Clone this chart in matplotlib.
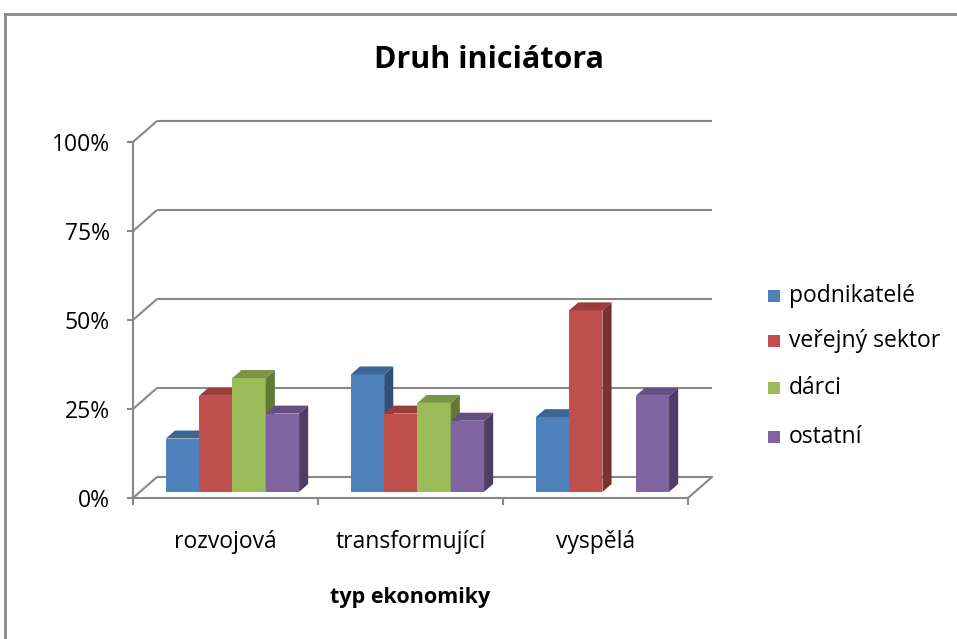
import matplotlib
matplotlib.use("Agg")
import matplotlib.pyplot as plt
from matplotlib.patches import Polygon, Rectangle
from matplotlib.lines import Line2D

categories = ["rozvojová", "transformující", "vyspělá"]
series = ["podnikatelé", "veřejný sektor", "dárci", "ostatní"]
podnikatele = [15, 33, 21]
verejny_sektor = [27, 22, 51]
darci = [32, 25, 0]
ostatni = [22, 20, 27]
values = [podnikatele, verejny_sektor, darci, ostatni]
yticks = [0, 25, 50, 75, 100]
ytick_labels = ["0%", "25%", "50%", "75%", "100%"]

front_colors = ["#4F81BD", "#C0504D", "#9BBB59", "#8064A2"]
top_colors = ["#3C6594", "#9A3D3B", "#7A9545", "#644E82"]
side_colors = ["#2F5079", "#7E302E", "#637A36", "#4F3D66"]
grid_color = "#888888"

FONT = ["Open Sans", "DejaVu Sans"]
plt.rcParams["font.family"] = FONT

W, H = 957, 639
fig = plt.figure(figsize=(W / 100, H / 100), dpi=100)

px_per_cat = 185.0
px_per_pct = 3.56
x_left_px, x_right_px = 133, 720
y0_px, ytop_px = 498, 115
ax = fig.add_axes([x_left_px / W, (H - y0_px) / H,
                   (x_right_px - x_left_px) / W, (y0_px - ytop_px) / H])
ax.set_xlim(-0.5, -0.5 + (x_right_px - x_left_px) / px_per_cat)
ax.set_ylim(0, (y0_px - ytop_px) / px_per_pct)
ax.patch.set_visible(False)

DX = 24 / px_per_cat   # depth offset of back wall (category units)
DY = 21 / px_per_pct   # depth offset of back wall (percent units)
lw = 1.5

# walls / gridlines
for v in yticks:
    ax.plot([-0.5, -0.5 + DX], [v, v + DY], color=grid_color, lw=lw, zorder=1,
            solid_capstyle="butt")
    ax.plot([-0.5 + DX, 2.5 + DX], [v + DY, v + DY], color=grid_color, lw=lw,
            zorder=1, solid_capstyle="butt")
# floor right edge
ax.plot([2.5, 2.5 + DX], [0, DY], color=grid_color, lw=lw, zorder=1)

# bars
n = len(series)
bw = 0.18
f0 = 0.29
dd = 0.38
for i in range(len(categories)):
    for j in range(n):
        v = values[j][i]
        if v <= 0:
            continue
        x0 = i - bw * n / 2 + j * bw + f0 * DX
        yb = f0 * DY
        ax.bar(x0, v, width=bw, bottom=yb, align="edge", color=front_colors[j],
               edgecolor="none", zorder=3)
        ox, oy = dd * DX, dd * DY
        top = Polygon([(x0, yb + v), (x0 + bw, yb + v), (x0 + bw + ox, yb + v + oy),
                       (x0 + ox, yb + v + oy)], closed=True, facecolor=top_colors[j],
                      edgecolor="none", zorder=3)
        side = Polygon([(x0 + bw, yb), (x0 + bw, yb + v), (x0 + bw + ox, yb + v + oy),
                        (x0 + bw + ox, yb + oy)], closed=True, facecolor=side_colors[j],
                       edgecolor="none", zorder=3)
        ax.add_patch(side)
        ax.add_patch(top)

# axes spines and ticks
for s in ["top", "right"]:
    ax.spines[s].set_visible(False)
for s in ["left", "bottom"]:
    ax.spines[s].set_color(grid_color)
    ax.spines[s].set_linewidth(lw)
    ax.spines[s].set_zorder(4)
ax.spines["left"].set_bounds(0, 100)
ax.spines["bottom"].set_bounds(-0.5, 2.5)

ax.set_yticks(yticks)
ax.set_yticklabels(ytick_labels)
ax.tick_params(axis="y", length=4.5, width=lw, color=grid_color, pad=12,
               labelsize=16.5, labelcolor="#000000")
ax.set_xticks([-0.5, 0.5, 1.5, 2.5])
ax.set_xticklabels([])
ax.set_xticks(range(len(categories)), minor=True)
ax.set_xticklabels(categories, minor=True)
ax.tick_params(axis="x", which="major", length=5, width=lw, color=grid_color)
ax.tick_params(axis="x", which="minor", length=0, pad=23, labelsize=16.5,
               labelcolor="#000000")

# titles
fig.text(489 / W, 1 - 60 / H, "Druh iniciátora", ha="center", va="center",
         fontsize=22, fontweight="bold")
fig.text(410 / W, 1 - 597 / H, "typ ekonomiky", ha="center", va="center",
         fontsize=15.5, fontweight="bold")

# legend
leg_y = [296, 341, 388, 437]
for j, name in enumerate(series):
    fig.add_artist(Rectangle((768 / W, 1 - (leg_y[j] + 6) / H), 12 / W, 12 / H,
                             transform=fig.transFigure, facecolor=front_colors[j],
                             edgecolor="none"))
    fig.text(789 / W, 1 - leg_y[j] / H, name, ha="left", va="center", fontsize=16.5)

# outer frame
fig.add_artist(Line2D([5 / W, 1.0], [1 - 14 / H, 1 - 14 / H], transform=fig.transFigure,
                      color="#8a8a8a", lw=2))
fig.add_artist(Line2D([5 / W, 5 / W], [1 - 14 / H, 0], transform=fig.transFigure,
                      color="#8a8a8a", lw=2))

fig.savefig("out.png", dpi=100)
